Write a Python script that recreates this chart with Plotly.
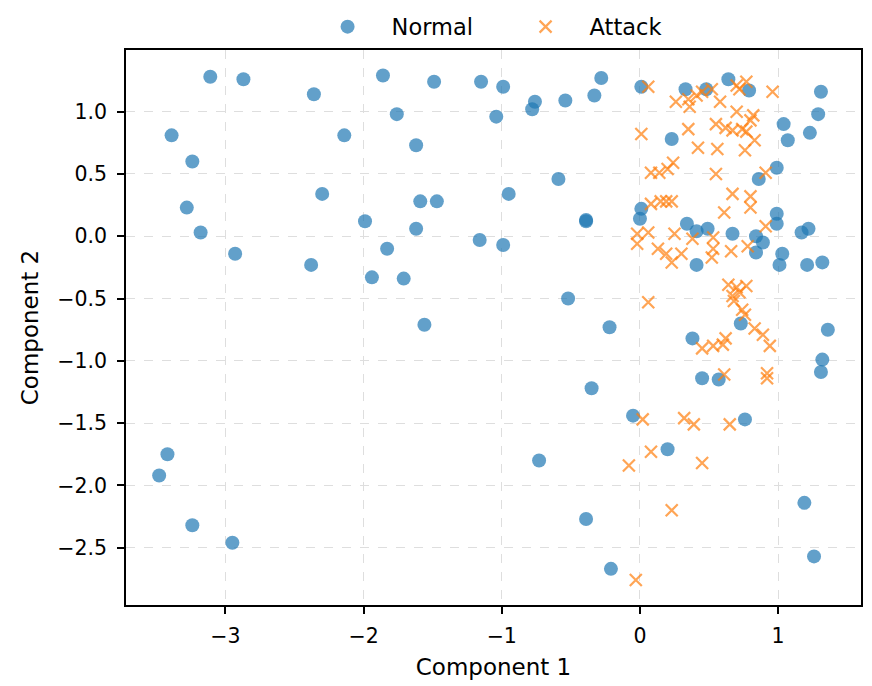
import plotly.graph_objects as go

normal_x = [-3.11, -2.87, -3.39, -3.24, -3.28, -3.18, -2.93,
            -2.36, -2.14, -2.30, -2.38, -1.99, -1.94,
            -1.86, -1.76, -1.49, -1.62, -1.15, -0.99, -1.04,
            -0.78, -0.76, -0.54, -0.33, -0.28, -0.59, -0.95,
            -1.59, -1.47, -0.39, -0.39, -1.62, -1.83, -1.16, -0.99,
            -1.71, -0.52, -1.56, -0.22,
            -0.35, -0.73, -0.39, -3.42, -3.48, -3.24, -2.95, -0.21,
            -0.05, 0.20, 0.76, 1.19, 1.26,
            0.01, 0.33, 0.48, 0.64, 0.79, 1.31, 1.29, 1.04, 1.23, 1.07, 0.23, 0.99, 0.86,
            0.01, 0.00, 0.34, 0.41, 0.49, 0.67, 0.84, 0.89, 0.99, 0.99, 1.17, 1.22,
            0.84, 1.03, 1.01, 1.21, 1.32, 0.41,
            0.73, 1.36, 0.38, 1.32, 1.31, 0.45, 0.57]
normal_y = [1.28, 1.26, 0.81, 0.60, 0.23, 0.03, -0.14,
            1.14, 0.81, 0.34, -0.23, 0.12, -0.33,
            1.29, 0.98, 1.24, 0.73, 1.24, 1.20, 0.96,
            1.02, 1.08, 1.09, 1.13, 1.27, 0.46, 0.34,
            0.28, 0.28, 0.12, 0.13, 0.06, -0.10, -0.03, -0.07,
            -0.34, -0.50, -0.71, -0.73,
            -1.22, -1.80, -2.27, -1.75, -1.92, -2.32, -2.46, -2.67,
            -1.44, -1.71, -1.47, -2.14, -2.57,
            1.20, 1.18, 1.18, 1.26, 1.17, 1.16, 0.98, 0.90, 0.83, 0.77, 0.78, 0.55, 0.46,
            0.22, 0.14, 0.10, 0.04, 0.06, 0.02, 0.00, -0.05, 0.18, 0.10, 0.03, 0.06,
            -0.13, -0.14, -0.23, -0.23, -0.21, -0.23,
            -0.70, -0.75, -0.82, -0.99, -1.09, -1.14, -1.15]

attack_x = [0.06, 0.26, 0.35, 0.36, 0.41, 0.45, 0.52, 0.58, 0.70, 0.77, 0.72, 0.96, 0.70, 0.82, 0.80,
            0.01, 0.35, 0.55, 0.62, 0.67, 0.74, 0.77, 0.42, 0.56, 0.76, 0.83, 0.24, 0.08, 0.14, 0.20, 0.55, 0.91,
            0.67, 0.80, 0.61, 0.80, 0.08, 0.15, 0.19, 0.23, 0.91,
            -0.02, -0.02, 0.06, 0.13, 0.19, 0.23, 0.25, 0.30, 0.38, 0.53, 0.53, 0.52, 0.66, 0.78,
            0.06, 0.64, 0.70, 0.77, 0.67, 0.72, 0.68, 0.74, 0.76, 0.83, 0.89, 0.94, 0.45, 0.53, 0.60, 0.62,
            0.92, 0.92, 0.61,
            0.02, 0.32, 0.39, 0.65, 0.08, -0.08, 0.45, 0.23, -0.03]
attack_y = [1.20, 1.08, 1.10, 1.04, 1.13, 1.16, 1.18, 1.08, 1.21, 1.24, 1.18, 1.16, 1.00, 0.97, 0.93,
            0.82, 0.86, 0.90, 0.87, 0.85, 0.86, 0.84, 0.71, 0.70, 0.69, 0.77, 0.59, 0.51, 0.51, 0.54, 0.50, 0.51,
            0.34, 0.32, 0.19, 0.23, 0.26, 0.28, 0.28, 0.28, 0.08,
            0.02, -0.06, 0.03, -0.10, -0.14, -0.21, 0.02, -0.14, -0.02, -0.01, -0.10, -0.17, -0.12, -0.08,
            -0.53, -0.39, -0.41, -0.40, -0.48, -0.45, -0.52, -0.59, -0.63, -0.74, -0.79, -0.88, -0.90, -0.88, -0.87, -0.82,
            -1.10, -1.14, -1.11,
            -1.47, -1.46, -1.51, -1.51, -1.73, -1.84, -1.82, -2.20, -2.76]

series_names = ["Normal", "Attack"]
x_label = "Component 1"
y_label = "Component 2"

FONT = "DejaVu Sans"

fig = go.Figure()
fig.add_trace(go.Scatter(
    x=normal_x, y=normal_y, mode="markers", name=series_names[0],
    marker=dict(symbol="circle", size=14, color="#1f77b4", opacity=0.7, line=dict(width=0)),
))
fig.add_trace(go.Scatter(
    x=attack_x, y=attack_y, mode="markers", name=series_names[1],
    marker=dict(symbol="x-thin", size=12, color="#ff7f0e", opacity=0.7,
                line=dict(width=2.2, color="#ff7f0e")),
))

axis_common = dict(
    showline=True, linecolor="black", linewidth=1.6, mirror=True,
    ticks="outside", ticklen=7, tickwidth=1.6, tickcolor="black",
    showgrid=True, gridcolor="#dedede", griddash="dash", gridwidth=1,
    zeroline=False, automargin=False,
    tickfont=dict(family=FONT, size=20.5, color="black"),
)

FIG_W, FIG_H = 864, 678

fig.update_layout(
    width=FIG_W, height=FIG_H,
    margin=dict(l=118, r=11, t=42, b=81),
    paper_bgcolor="white", plot_bgcolor="white",
    font=dict(family=FONT, color="black"),
    showlegend=True,
    legend=dict(
        orientation="h", x=0.511, xanchor="center",
        yref="container", y=1 - 19 / FIG_H, yanchor="middle",
        font=dict(family=FONT, size=22.5, color="black"),
        bgcolor="rgba(0,0,0,0)", itemwidth=78, entrywidth=105,
    ),
    xaxis=dict(
        range=[-3.72, 1.60], dtick=1, tick0=0, ticklabelstandoff=5,
        title=dict(text=x_label, font=dict(family=FONT, size=23, color="black"), standoff=11),
        **axis_common,
    ),
    yaxis=dict(
        range=[-2.96, 1.495], dtick=0.5, tick0=0, tickformat=".1f", ticklabelstandoff=6,
        title=dict(text=y_label, font=dict(family=FONT, size=23, color="black"), standoff=12),
        **axis_common,
    ),
)

fig.write_html("out.html")
